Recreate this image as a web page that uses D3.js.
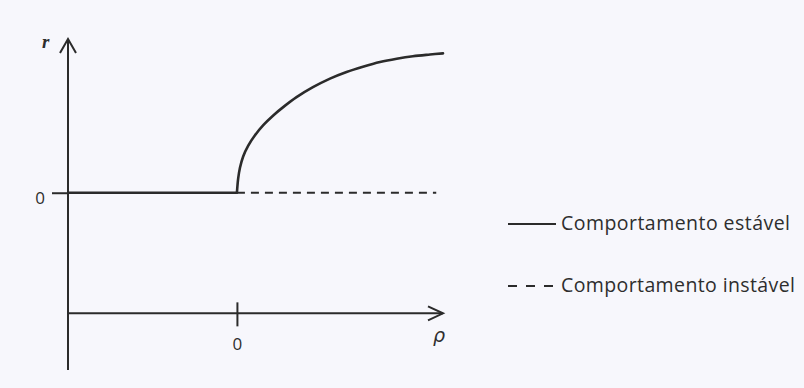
<!DOCTYPE html>
<html>
<head>
<meta charset="utf-8">
<script src="https://cdn.jsdelivr.net/npm/d3@7"></script>
<style>
  html, body { margin: 0; padding: 0; background: #f7f7fc; }
  svg { display: block; }
  text { font-family: "Open Sans", "Lato", sans-serif; fill: #2e2e2e; }
</style>
</head>
<body>
<svg id="chart" width="804" height="388"></svg>
<script>
// Bifurcation diagram: r versus rho
const rhoStable = [-1, 0];                 // r = 0 branch, stable for rho < 0
const rhoUnstable = [0, 1.18];             // r = 0 branch, unstable for rho > 0
const branchRho = [0, 0.0077, 0.018, 0.037, 0.067, 0.107, 0.156, 0.215, 0.274, 0.353, 0.45, 0.551, 0.649, 0.746, 0.847, 0.946, 1.042, 1.143, 1.22];
const branchR   = [0, 0.105, 0.180, 0.262, 0.340, 0.415, 0.488, 0.558, 0.618, 0.690, 0.762, 0.824, 0.872, 0.910, 0.944, 0.968, 0.986, 0.998, 1.006];
const xTicks = [0];
const yTicks = [0];
const legendLabels = ["Comportamento estável", "Comportamento instável"];

const svg = d3.select("#chart");
const ink = "#2b2b2b";

const x = d3.scaleLinear().domain([-1, 1.22]).range([68, 443]);
const y = d3.scaleLinear().domain([-1.28, 1.11]).range([370, 39]);
const rhoAxisAt = -0.871;

// background wash
svg.append("rect").attr("width", 804).attr("height", 388).attr("fill", "#f7f7fc");

// vertical axis with arrow
svg.append("line")
  .attr("x1", x(-1)).attr("x2", x(-1))
  .attr("y1", y(-1.28)).attr("y2", y(1.11))
  .attr("stroke", ink).attr("stroke-width", 2);
svg.append("polyline")
  .attr("points", [[x(-1) - 8, y(1.11) + 14], [x(-1), y(1.11)], [x(-1) + 8, y(1.11) + 14]].join(" "))
  .attr("fill", "none").attr("stroke", ink).attr("stroke-width", 2);

// horizontal axis with arrow
svg.append("line")
  .attr("x1", x(-1)).attr("x2", x(1.22))
  .attr("y1", y(rhoAxisAt)).attr("y2", y(rhoAxisAt))
  .attr("stroke", ink).attr("stroke-width", 2);
svg.append("polyline")
  .attr("points", [[x(1.22) - 15, y(rhoAxisAt) - 7], [x(1.22), y(rhoAxisAt)], [x(1.22) - 15, y(rhoAxisAt) + 7]].join(" "))
  .attr("fill", "none").attr("stroke", ink).attr("stroke-width", 2);

// r-axis tick (zero)
const yAxis = d3.axisLeft(y).tickValues(yTicks).tickSize(16).tickPadding(7).tickFormat(d3.format("d"));
const gy = svg.append("g").attr("transform", `translate(${x(-1)},0)`).call(yAxis);
gy.select(".domain").remove();
gy.selectAll(".tick line").attr("stroke", ink).attr("stroke-width", 2);
gy.selectAll(".tick text").attr("font-size", 17).attr("dy", "0.62em").attr("fill", "#2e2e2e")
  .style("font-family", "'Open Sans', sans-serif");

// rho-axis tick (zero), crossing the axis line
const xAxis = d3.axisBottom(x).tickValues(xTicks).tickSize(24).tickPadding(12).tickFormat(d3.format("d"));
const gx = svg.append("g").attr("transform", `translate(0,${y(rhoAxisAt) - 11})`).call(xAxis);
gx.select(".domain").remove();
gx.selectAll(".tick line").attr("stroke", ink).attr("stroke-width", 2);
gx.selectAll(".tick text").attr("font-size", 17).attr("fill", "#2e2e2e")
  .style("font-family", "'Open Sans', sans-serif");

// axis names
svg.append("text").attr("x", x(-1) - 26).attr("y", y(1.11) + 9)
  .style("font-family", "'Liberation Serif', serif").style("font-style", "italic").style("font-weight", "bold")
  .attr("font-size", 19).text("r");
svg.append("text").attr("x", x(1.22) - 10).attr("y", y(rhoAxisAt) + 29)
  .style("font-family", "'DejaVu Sans', sans-serif").style("font-style", "italic")
  .attr("font-size", 19).text("ρ");

const line = d3.line().x(d => x(d[0])).y(d => y(d[1]));

// stable r = 0 branch
svg.append("path").datum(rhoStable.map(p => [p, 0])).attr("d", line)
  .attr("fill", "none").attr("stroke", ink).attr("stroke-width", 2.4);

// unstable r = 0 branch
svg.append("path").datum(rhoUnstable.map(p => [p, 0])).attr("d", line)
  .attr("fill", "none").attr("stroke", ink).attr("stroke-width", 1.8)
  .attr("stroke-dasharray", "8,6");

// stable bifurcated branch
svg.append("path")
  .datum(branchRho.map((p, i) => [p, branchR[i]]))
  .attr("d", d3.line().x(d => x(d[0])).y(d => y(d[1])).curve(d3.curveCatmullRom.alpha(0.5)))
  .attr("fill", "none").attr("stroke", ink).attr("stroke-width", 2.6)
  .attr("stroke-linecap", "round");

// legend
const legend = svg.append("g");
const rows = [{ y: 224, dash: null }, { y: 286, dash: "9,9" }];
rows.forEach((r, i) => {
  legend.append("line").attr("x1", 508).attr("x2", 556).attr("y1", r.y).attr("y2", r.y)
    .attr("stroke", ink).attr("stroke-width", 2)
    .attr("stroke-dasharray", r.dash);
  legend.append("text").attr("x", 561).attr("y", r.y + 6)
    .attr("font-size", 19.5)
    .attr("textLength", i === 0 ? 229 : 234).attr("lengthAdjust", "spacing")
    .text(legendLabels[i]);
});
</script>
</body>
</html>
